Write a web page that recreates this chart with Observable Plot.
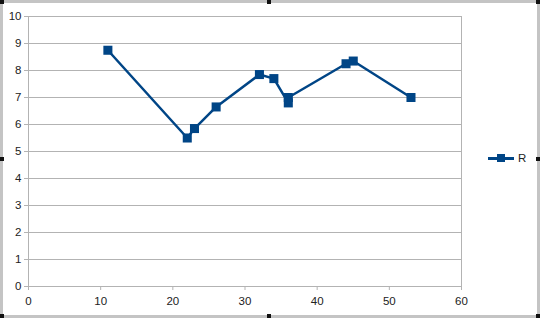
<!DOCTYPE html>
<html>
<head>
<meta charset="utf-8">
<script src="https://cdn.jsdelivr.net/npm/d3@7"></script>
<script src="https://cdn.jsdelivr.net/npm/@observablehq/plot@0.6"></script>
<style>
  html, body { margin: 0; padding: 0; background: #fff; }
  #wrap { position: relative; width: 540px; height: 318px; overflow: hidden; font-family: "Liberation Sans", Arial, sans-serif; }
  .edge { position: absolute; background: #c4c4c4; }
  .handle { position: absolute; width: 4px; height: 4px; background: #111; }
  #legend { position: absolute; left: 488px; top: 151px; display: flex; align-items: center; font-size: 11.5px; color: #222; }
  #legend .sw { position: relative; width: 26px; height: 14px; margin-right: 4px; }
  #legend .ln { position: absolute; left: 0; right: 0; top: 6px; height: 2.5px; background: #004586; }
  #legend .mk { position: absolute; left: 9px; top: 3px; width: 8px; height: 8px; background: #004586; }
</style>
</head>
<body>
<div id="wrap"></div>
<script>
// Data
const xValues = [11, 22, 23, 26, 32, 34, 36, 36, 44, 45, 53];
const rValues = [8.75, 5.5, 5.85, 6.65, 7.85, 7.7, 6.8, 7.0, 8.25, 8.35, 7.0];
const seriesName = "R";
const xTicks = [0, 10, 20, 30, 40, 50, 60];
const yTicks = [0, 1, 2, 3, 4, 5, 6, 7, 8, 9, 10];

const data = xValues.map((x, i) => ({x, y: rValues[i]}));
const blue = "#004586";

const chart = Plot.plot({
  width: 540,
  height: 318,
  marginLeft: 28,
  marginRight: 79,
  marginTop: 16,
  marginBottom: 32,
  style: {fontFamily: "Liberation Sans, Arial, sans-serif", fontSize: "11.5px", color: "#222", background: "transparent"},
  x: {domain: [0, 60], ticks: xTicks, label: null},
  y: {domain: [0, 10], ticks: yTicks, label: null},
  marks: [
    Plot.gridY(yTicks, {stroke: "#b3b3b3", strokeOpacity: 1, strokeWidth: 1}),
    Plot.ruleX([0, 60], {stroke: "#b3b3b3", strokeWidth: 1}),
    Plot.axisX({ticks: xTicks, tickSize: 4, tickPadding: 6, stroke: "#b3b3b3", fill: "#222", tickFormat: d => d, label: null}),
    Plot.axisY({ticks: yTicks, tickSize: 4, tickPadding: 3, stroke: "#b3b3b3", fill: "#222", tickFormat: d => d, label: null}),
    Plot.line(data, {x: "x", y: "y", stroke: blue, strokeWidth: 2.5}),
    Plot.dot(data, {x: "x", y: "y", symbol: "square", r: 5.1, fill: blue, stroke: "none"})
  ]
});
chart.style.position = "absolute";
chart.style.left = "0";
chart.style.top = "0";
const wrap = document.getElementById("wrap");
wrap.appendChild(chart);

// window frame edges and selection handles
[["0px","0px","540px","3px"],["0px","315px","540px","3px"],["0px","0px","3px","318px"],["537px","0px","3px","318px"]].forEach(([l,t,w,h]) => {
  const e = document.createElement("div"); e.className = "edge";
  e.style.left = l; e.style.top = t; e.style.width = w; e.style.height = h; wrap.appendChild(e);
});
[[0,0],[267,0],[536,0],[0,157],[536,157],[0,314],[267,314],[536,314]].forEach(([l,t]) => {
  const e = document.createElement("div"); e.className = "handle";
  e.style.left = l + "px"; e.style.top = t + "px"; wrap.appendChild(e);
});

const legend = document.createElement("div");
legend.id = "legend";
legend.innerHTML = `<div class="sw"><div class="ln"></div><div class="mk"></div></div><span>${seriesName}</span>`;
wrap.appendChild(legend);
</script>
</body>
</html>
